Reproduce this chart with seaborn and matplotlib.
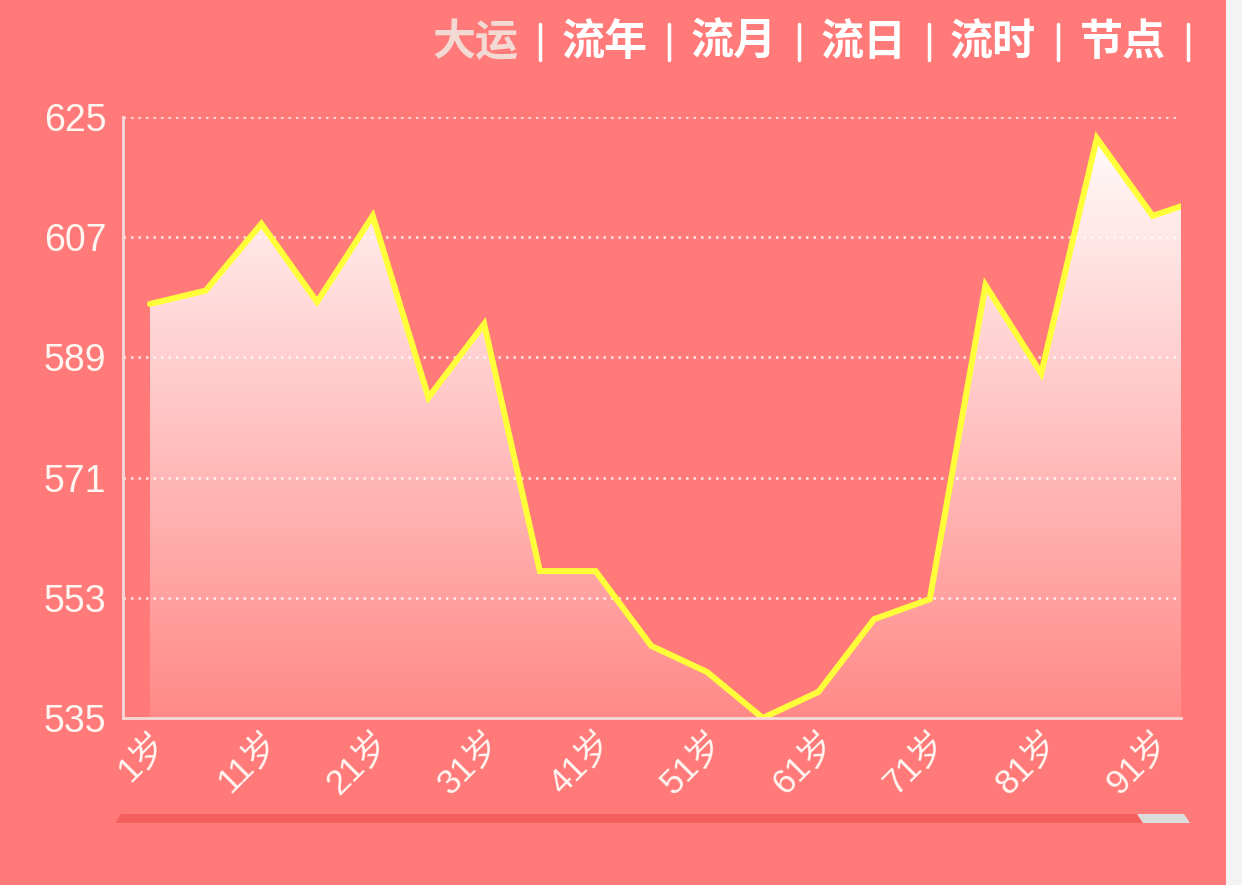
import seaborn as sns
import matplotlib.pyplot as plt
import matplotlib.patches as mpatches
from matplotlib.lines import Line2D
from matplotlib.transforms import ScaledTranslation
import numpy as np
import pandas as pd

sns.set_theme(style="white")
plt.rcParams['font.family'] = ['Liberation Sans', 'Noto Sans CJK SC', 'DejaVu Sans']

# 年龄（每5岁一个点）和数值
ages = [1, 6, 11, 16, 21, 26, 31, 36, 41, 46, 51, 56, 61, 66, 71, 76, 81, 86, 91, 96]
values = [597, 599, 609, 597.3, 610.2, 583, 594, 557, 557, 545.8, 541.9, 535,
          538.9, 549.8, 552.8, 599.8, 586.6, 621.8, 610.2, 613]
tick_ages = [1, 11, 21, 31, 41, 51, 61, 71, 81, 91]
tick_labels = ['{}岁'.format(a) for a in tick_ages]
y_ticks = [535, 553, 571, 589, 607, 625]
tabs = ['大运', '流年', '流月', '流日', '流时', '节点']

df = pd.DataFrame({'age': ages, 'value': values})

bg = '#FF7A78'
W, H = 1242, 885
fig = plt.figure(figsize=(W / 100, H / 100), dpi=100)
fig.patch.set_facecolor(bg)
# 右侧浅灰条
fig.patches.append(mpatches.Rectangle((1226 / W, 0), 16 / W, 1, transform=fig.transFigure,
                                      facecolor='#F3F3F3', edgecolor='none', zorder=0))

ax = fig.add_axes([123 / W, 1 - 718 / H, (1181 - 123) / W, (718 - 117) / H])
ax.set_facecolor(bg)

# 渐变填充
ymin, ymax = y_ticks[0], max(values)
grad = np.zeros((256, 1, 4))
grad[:, 0, :3] = 1.0
grad[:, 0, 3] = np.linspace(0.97, 0.12, 256)
poly = ax.fill_between(df['age'], df['value'], ymin, color='none', lw=0)
img = ax.imshow(grad, aspect='auto', extent=[ages[0], ages[-1], ymin, ymax],
                origin='upper', zorder=1, interpolation='bicubic')
img.set_clip_path(poly.get_paths()[0], transform=ax.transData)

sns.lineplot(data=df, x='age', y='value', ax=ax, color='#FFFF3A', lw=4.3,
             solid_joinstyle='miter', zorder=3)

ax.set_xlim(-1.42, 93.55)
ax.set_ylim(535, 625)
ax.set_yticks(y_ticks)
ax.set_xticks(tick_ages)
ax.set_xticklabels(tick_labels)
ax.set_xlabel('')
ax.set_ylabel('')

for y in y_ticks[1:]:
    ax.axhline(y, color='white', alpha=0.8, lw=1.8, ls=(0, (1, 2)), zorder=2)

for s in ['top', 'right']:
    ax.spines[s].set_visible(False)
for s in ['left', 'bottom']:
    ax.spines[s].set_color('#F6DADA')
    ax.spines[s].set_linewidth(2)
    ax.spines[s].set_zorder(4)

ax.tick_params(axis='y', length=0, pad=12, labelsize=27, labelcolor='#FFF6F2')
ax.tick_params(axis='x', length=0, pad=14, labelsize=25, labelcolor='#FFF6F2')
offset = ScaledTranslation(12 / 100, 0, fig.dpi_scale_trans)
for lab in ax.get_xticklabels():
    lab.set_rotation(45)
    lab.set_ha('right')
    lab.set_va('center')
    lab.set_rotation_mode('anchor')
    lab.set_transform(lab.get_transform() + offset)

# 顶部标签
for i, t in enumerate(tabs):
    sep_x = 540 + 129.5 * i
    fig.add_artist(Line2D([sep_x / W, sep_x / W], [1 - 24 / H, 1 - 60 / H],
                          transform=fig.transFigure, color='white', lw=2.5))
    c = '#F3D9D4' if t == '大运' else 'white'
    fig.text((sep_x - 22) / W, 1 - 42 / H, t, ha='right', va='center', fontsize=31,
             color=c, fontweight='bold', family=['Noto Sans CJK SC'])

# 底部缩放条
fig.patches.append(mpatches.Polygon([(115 / W, 1 - 823 / H), (121 / W, 1 - 814 / H),
                                     (1137 / W, 1 - 814 / H), (1143 / W, 1 - 823 / H)],
                                    closed=True, transform=fig.transFigure,
                                    facecolor='#F45E5C', edgecolor='none'))
fig.patches.append(mpatches.Polygon([(1143 / W, 1 - 823 / H), (1137 / W, 1 - 814 / H),
                                     (1184 / W, 1 - 814 / H), (1190 / W, 1 - 823 / H)],
                                    closed=True, transform=fig.transFigure,
                                    facecolor='#DCDCDC', edgecolor='none'))

fig.savefig('out.png', dpi=100, facecolor=fig.get_facecolor())
